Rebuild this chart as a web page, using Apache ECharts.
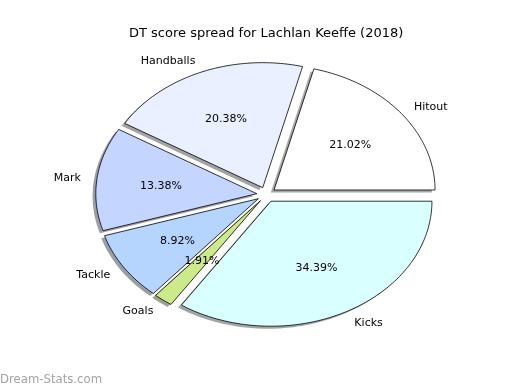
<!DOCTYPE html>
<html>
<head>
<meta charset="utf-8">
<script src="https://cdn.jsdelivr.net/npm/echarts@6/dist/echarts.min.js"></script>
<style>html,body{margin:0;padding:0;background:#fff}#c{width:520px;height:390px}</style>
</head>
<body>
<div id="c"></div>
<script>
const categories = ['Hitout', 'Handballs', 'Mark', 'Tackle', 'Goals', 'Kicks'];
const percentages = [21.02, 20.38, 13.38, 8.92, 1.91, 34.39];
const sliceColors = ['#ffffff', '#eaf0ff', '#c4d6ff', '#b5d5ff', '#cdea8a', '#d9ffff'];
const explode = [0.06, 0.06, 0.06, 0.06, 0.06, 0.06];
const titleText = 'DT score spread for Lachlan Keeffe (2018)';

const total = percentages.reduce((a, b) => a + b, 0);
const cum = [];
let acc = 0;
percentages.forEach(v => { cum.push(acc); acc += v; });

function angles(i) {
  const a0 = cum[i] / total * 2 * Math.PI;
  const a1 = (cum[i] + percentages[i]) / total * 2 * Math.PI;
  return [a0, a1, (a0 + a1) / 2];
}
function wedgePoints(api, i, dx, dy) {
  const [a0, a1, am] = angles(i);
  const ox = explode[i] * Math.cos(am) + dx, oy = explode[i] * Math.sin(am) + dy;
  const pts = [api.coord([ox, oy])];
  const n = Math.max(4, Math.ceil((a1 - a0) / (Math.PI / 180)));
  for (let k = 0; k <= n; k++) {
    const a = a0 + (a1 - a0) * k / n;
    pts.push(api.coord([ox + Math.cos(a), oy + Math.sin(a)]));
  }
  return pts;
}
function hexToRgb(h) {
  return [parseInt(h.substr(1, 2), 16), parseInt(h.substr(3, 2), 16), parseInt(h.substr(5, 2), 16)];
}
const font = '"DejaVu Sans", sans-serif';
const seriesData = percentages.map((v, i) => ({ name: categories[i], value: [0, 0, v] }));

const chart = echarts.init(document.getElementById('c'), null, { renderer: 'canvas' });
chart.setOption({
  animation: false,
  backgroundColor: '#ffffff',
  title: {
    text: titleText, left: 124, top: 22,
    textStyle: { fontFamily: font, fontSize: 13, fontWeight: 'normal', color: '#000' }
  },
  grid: { left: 24.9, top: 7.1, width: 483, height: 375, show: false },
  xAxis: { type: 'value', min: -1.5, max: 1.5, show: false },
  yAxis: { type: 'value', min: -1.5, max: 1.5, show: false },
  graphic: [{
    type: 'text', left: 0, top: 374,
    style: { text: 'Dream-Stats.com', fill: '#a3a3a3', font: '11.7px "DejaVu Sans", sans-serif' }
  }],
  series: [
    {
      type: 'custom', z: 1, clip: false, data: seriesData,
      renderItem: (params, api) => {
        const i = params.dataIndex;
        const rgb = hexToRgb(sliceColors[i]).map(c => Math.round(c * 0.3));
        return {
          type: 'polygon',
          shape: { points: wedgePoints(api, i, -0.02, -0.02) },
          style: { fill: 'rgb(' + rgb.join(',') + ')', opacity: 0.5 }
        };
      }
    },
    {
      type: 'custom', z: 2, clip: false, data: seriesData,
      renderItem: (params, api) => {
        const i = params.dataIndex;
        const [a0, a1, am] = angles(i);
        const ox = explode[i] * Math.cos(am), oy = explode[i] * Math.sin(am);
        const lp = api.coord([ox + 1.1 * Math.cos(am), oy + 1.1 * Math.sin(am)]);
        const pp = api.coord([ox + 0.6 * Math.cos(am), oy + 0.6 * Math.sin(am)]);
        return {
          type: 'group',
          children: [
            {
              type: 'polygon',
              shape: { points: wedgePoints(api, i, 0, 0) },
              style: { fill: sliceColors[i], stroke: '#000', lineWidth: 0.8, lineJoin: 'miter' }
            },
            {
              type: 'text', z2: 10,
              style: {
                text: categories[i], x: lp[0], y: lp[1] + 1,
                align: Math.cos(am) > 0 ? 'left' : 'right', verticalAlign: 'middle',
                fill: '#000', fontSize: 11, fontFamily: font
              }
            },
            {
              type: 'text', z2: 10,
              style: {
                text: (percentages[i] / total * 100).toFixed(2) + '%', x: pp[0], y: pp[1] + 1,
                align: 'center', verticalAlign: 'middle',
                fill: '#000', fontSize: 11, fontFamily: font
              }
            }
          ]
        };
      }
    }
  ]
});
</script>
</body>
</html>
